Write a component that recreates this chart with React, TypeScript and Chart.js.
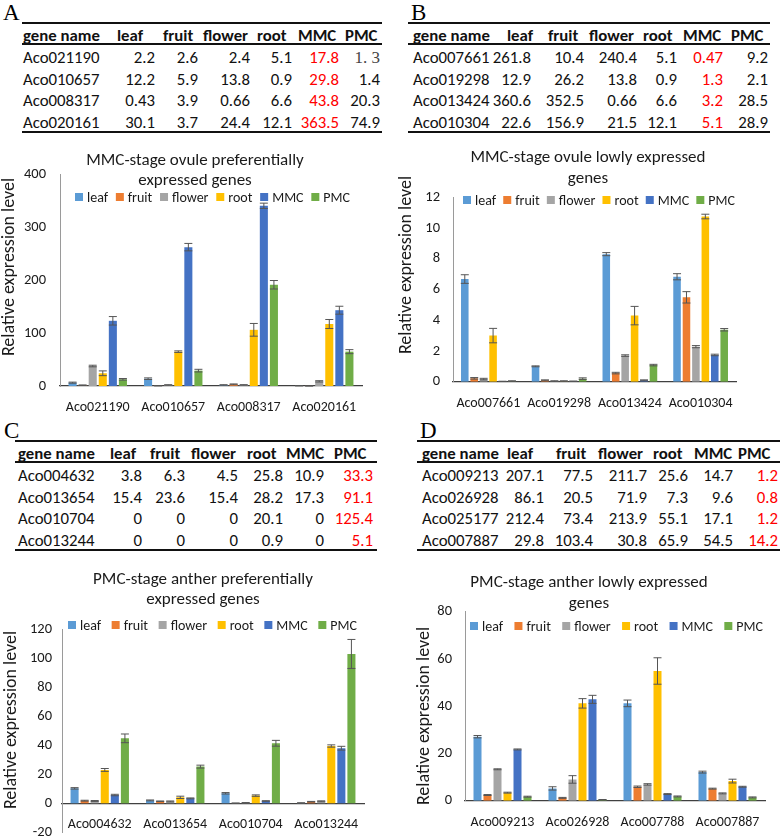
import React, { useEffect, useRef } from "react";
import { Chart, registerables } from "chart.js";
Chart.register(...registerables);

const FONT = "Carlito, Calibri, Lato, 'Noto Sans', sans-serif";
const SERIF = "'Liberation Serif', 'DejaVu Serif', serif";

// ---------- shared ----------
const SERIES = ["leaf", "fruit", "flower", "root", "MMC", "PMC"];
const COLORS = ["#5B9BD5", "#ED7D31", "#A5A5A5", "#FFC000", "#4472C4", "#70AD47"];
const HEADERS = ["gene name", "leaf", "fruit", "flower", "root", "MMC", "PMC"];

// ---------- panel A ----------
const tableAGenes = ["Aco021190", "Aco010657", "Aco008317", "Aco020161"];
const tableARows = [
  ["2.2", "2.6", "2.4", "5.1", "17.8", "1. 3"],
  ["12.2", "5.9", "13.8", "0.9", "29.8", "1.4"],
  ["0.43", "3.9", "0.66", "6.6", "43.8", "20.3"],
  ["30.1", "3.7", "24.4", "12.1", "363.5", "74.9"],
];
const chartAGenes = ["Aco021190", "Aco010657", "Aco008317", "Aco020161"];
// order: leaf, fruit, flower, root, MMC, PMC
const chartAValues = [
  [6.3, 13.8, 1.9, 0.5],
  [1.5, 0.5, 3.1, 0.2],
  [37.7, 1.9, 2.0, 8.8],
  [24, 64.8, 106, 117],
  [123, 262, 340, 143],
  [12.6, 29, 191, 64.8],
];
const chartAErrors = [
  [1, 1.5, 0.5, 0.3],
  [0.5, 0.3, 0.8, 0.2],
  [1.5, 0.5, 0.5, 1.2],
  [4.5, 1.5, 12, 8.5],
  [8, 7, 5, 7.5],
  [1.5, 2.5, 8, 3.8],
];

// ---------- panel B ----------
const tableBGenes = ["Aco007661", "Aco019298", "Aco013424", "Aco010304"];
const tableBRows = [
  ["261.8", "10.4", "240.4", "5.1", "0.47", "9.2"],
  ["12.9", "26.2", "13.8", "0.9", "1.3", "2.1"],
  ["360.6", "352.5", "0.66", "6.6", "3.2", "28.5"],
  ["22.6", "156.9", "21.5", "12.1", "5.1", "28.9"],
];
const chartBGenes = ["Aco007661", "Aco019298", "Aco013424", "Aco010304"];
const chartBValues = [
  [6.68, 1.0, 8.3, 6.83],
  [0.22, 0.09, 0.56, 5.49],
  [0.17, 0.04, 1.7, 2.28],
  [3.0, 0.04, 4.3, 10.75],
  [0.02, 0.03, 0.09, 1.74],
  [0.04, 0.2, 1.08, 3.38],
];
const chartBErrors = [
  [0.28, 0.03, 0.1, 0.2],
  [0.05, 0.03, 0.05, 0.37],
  [0.05, 0.02, 0.05, 0.07],
  [0.47, 0.02, 0.6, 0.15],
  [0.01, 0.01, 0.03, 0.05],
  [0.02, 0.05, 0.05, 0.08],
];

// ---------- panel C ----------
const tableCGenes = ["Aco004632", "Aco013654", "Aco010704", "Aco013244"];
const tableCRows = [
  ["3.8", "6.3", "4.5", "25.8", "10.9", "33.3"],
  ["15.4", "23.6", "15.4", "28.2", "17.3", "91.1"],
  ["0", "0", "0", "20.1", "0", "125.4"],
  ["0", "0", "0", "0.9", "0", "5.1"],
];
const chartCGenes = ["Aco004632", "Aco013654", "Aco010704", "Aco013244"];
const chartCValues = [
  [10.3, 2.0, 6.9, 0.2],
  [1.8, 1.4, 0.1, 1.1],
  [1.6, 1.3, 0.3, 1.4],
  [23, 4.1, 5.3, 39.5],
  [5.7, 3.4, 1.6, 38],
  [44.8, 25.3, 41.4, 103],
];
const chartCErrors = [
  [0.5, 0.3, 0.5, 0.2],
  [0.3, 0.2, 0.1, 0.2],
  [0.3, 0.3, 0.2, 0.3],
  [1, 0.8, 0.5, 0.8],
  [0.5, 0.3, 0.2, 1.3],
  [3, 1, 2, 10],
];

// ---------- panel D ----------
const tableDGenes = ["Aco009213", "Aco026928", "Aco025177", "Aco007887"];
const tableDRows = [
  ["207.1", "77.5", "211.7", "25.6", "14.7", "1.2"],
  ["86.1", "20.5", "71.9", "7.3", "9.6", "0.8"],
  ["212.4", "73.4", "213.9", "55.1", "17.1", "1.2"],
  ["29.8", "103.4", "30.8", "65.9", "54.5", "14.2"],
];
const chartDGenes = ["Aco009213", "Aco026928", "Aco007788", "Aco007887"];
const chartDValues = [
  [27.1, 5.2, 41.2, 12.1],
  [2.4, 1.2, 5.9, 5.1],
  [13.3, 9.0, 6.9, 3.1],
  [3.4, 41.2, 54.9, 8.3],
  [21.7, 42.9, 2.8, 5.9],
  [1.7, 0.4, 1.8, 1.4],
];
const chartDErrors = [
  [0.5, 0.7, 1.4, 0.4],
  [0.2, 0.2, 0.3, 0.2],
  [0.2, 1.6, 0.3, 0.2],
  [0.2, 2, 5.6, 0.8],
  [0.2, 1.7, 0.2, 0.2],
  [0.2, 0.1, 0.2, 0.2],
];

// ---------- plugins ----------
const errorBarPlugin = {
  id: "errorBars",
  afterDatasetsDraw(chart: any) {
    const ctx = chart.ctx;
    const ys = chart.scales.y;
    chart.data.datasets.forEach((ds: any, i: number) => {
      const meta = chart.getDatasetMeta(i);
      meta.data.forEach((bar: any, j: number) => {
        const v = ds.data[j];
        const e = ds.errors[j];
        const x = bar.x;
        const t = ys.getPixelForValue(v + e);
        const b = ys.getPixelForValue(v - e);
        const cap = 4;
        ctx.save();
        ctx.strokeStyle = "#555555";
        ctx.lineWidth = 1;
        ctx.beginPath();
        ctx.moveTo(x, t);
        ctx.lineTo(x, b);
        ctx.moveTo(x - cap, t);
        ctx.lineTo(x + cap, t);
        ctx.moveTo(x - cap, b);
        ctx.lineTo(x + cap, b);
        ctx.stroke();
        ctx.restore();
      });
    });
  },
};

const overlayPlugin = {
  id: "overlay",
  afterDraw(chart: any, _args: any, o: any) {
    const ctx = chart.ctx;
    ctx.save();
    ctx.fillStyle = "#1a1a1a";
    ctx.textBaseline = "middle";
    ctx.textAlign = "center";
    ctx.font = `${o.titleSize}px ${FONT}`;
    o.titleLines.forEach((t: string, k: number) => ctx.fillText(t, o.titleX, o.titleY[k]));
    // legend
    ctx.font = `${o.legendSize}px ${FONT}`;
    const box = 8;
    const gap = 4;
    const items = chart.data.datasets.map((ds: any) => ({
      label: ds.label,
      color: ds.backgroundColor,
      w: box + gap + ctx.measureText(ds.label).width,
    }));
    const sum = items.reduce((s: number, it: any) => s + it.w, 0);
    const spacing = (o.legendW - sum) / (items.length - 1);
    let x = o.legendX;
    ctx.textAlign = "left";
    items.forEach((it: any) => {
      ctx.fillStyle = it.color;
      ctx.fillRect(x, o.legendY - box / 2, box, box);
      ctx.fillStyle = "#1a1a1a";
      ctx.fillText(it.label, x + box + gap, o.legendY + 1);
      x += it.w + spacing;
    });
    // y-axis title
    ctx.translate(o.yTitleX, o.yTitleY);
    ctx.rotate(-Math.PI / 2);
    ctx.textAlign = "center";
    ctx.font = `${o.yTitleSize}px ${FONT}`;
    ctx.fillText(o.yTitle, 0, 0);
    ctx.restore();
  },
};

// ---------- components ----------
type TableCfg = {
  letter: string;
  letterX: number;
  top: number;
  x1: number;
  x2: number;
  headerX: number[];
  valueRight: number[];
  genes: string[];
  rows: string[][];
  redCol: number;
  special?: { r: number; c: number };
};

const TABLE_FS = 16.8;

function Table({ c }: { c: TableCfg }) {
  const els: React.ReactNode[] = [];
  const txt = (key: string, text: string, cy: number, st: React.CSSProperties) =>
    els.push(
      <div
        key={key}
        style={{
          position: "absolute",
          top: cy - 11,
          height: 22,
          lineHeight: "22px",
          fontFamily: FONT,
          fontSize: TABLE_FS,
          color: "#111",
          whiteSpace: "nowrap",
          ...st,
        }}
      >
        {text}
      </div>
    );
  els.push(
    <div
      key="letter"
      style={{
        position: "absolute",
        left: c.letterX,
        top: c.top - 22,
        fontFamily: SERIF,
        fontSize: 23,
        lineHeight: "23px",
        color: "#000",
      }}
    >
      {c.letter}
    </div>
  );
  const line = (key: string, y: number, h: number) =>
    els.push(
      <div
        key={key}
        style={{ position: "absolute", left: c.x1, width: c.x2 - c.x1, top: y - h / 2, height: h, background: "#111" }}
      />
    );
  line("top", c.top, 1.6);
  line("under", c.top + 21, 1.2);
  line("bottom", c.top + 109, 2);
  HEADERS.forEach((h, i) =>
    txt("h" + i, h, c.top + 12.5, { left: c.headerX[i], fontWeight: 700 })
  );
  const rowY = [c.top + 35, c.top + 56.5, c.top + 78, c.top + 99.5];
  c.genes.forEach((g, r) => {
    txt("g" + r, g, rowY[r], { left: c.headerX[0] });
    c.rows[r].forEach((v, k) => {
      const sp = c.special && c.special.r === r && c.special.c === k;
      txt("v" + r + "-" + k, v, rowY[r], {
        right: 780 - c.valueRight[k],
        textAlign: "right",
        color: sp ? "#444" : k === c.redCol ? "#FF0000" : "#111",
        fontFamily: sp ? SERIF : FONT,
        fontSize: sp ? 17 : TABLE_FS,
      });
    });
  });
  return <>{els}</>;
}

type ChartCfg = {
  left: number;
  top: number;
  width: number;
  height: number;
  genes: string[];
  values: number[][];
  errors: number[][];
  yMin: number;
  yMax: number;
  step: number;
  padTop: number;
  padRight: number;
  padBottom: number;
  yWidth: number;
  xHeight: number;
  yTickPad: number;
  xAtZero?: boolean;
  overlay: any;
};

function BarChart({ c }: { c: ChartCfg }) {
  const ref = useRef<HTMLCanvasElement>(null);
  useEffect(() => {
    const chart = new Chart(ref.current as HTMLCanvasElement, {
      type: "bar",
      data: {
        labels: c.genes,
        datasets: SERIES.map((s, i) => ({
          label: s,
          data: c.values[i],
          errors: c.errors[i],
          backgroundColor: COLORS[i],
          borderWidth: 0,
          categoryPercentage: 0.8,
          barPercentage: 0.8,
        })) as any,
      },
      options: {
        responsive: false,
        animation: false,
        layout: { padding: { left: 0, top: c.padTop, right: c.padRight, bottom: c.padBottom } },
        plugins: {
          legend: { display: false },
          title: { display: false },
          tooltip: { enabled: false },
          overlay: c.overlay,
        } as any,
        scales: {
          x: {
            position: (c.xAtZero ? { y: 0 } : "bottom") as any,
            grid: { display: false, drawTicks: false },
            border: { display: true, color: "#404040", width: 1.3 },
            ticks: {
              font: { family: FONT, size: 14 },
              color: "#1a1a1a",
              padding: 13,
              maxRotation: 0,
              autoSkip: false,
            },
            afterFit: (s: any) => {
              s.height = c.xHeight;
              s.paddingLeft = 0;
              s.paddingRight = 0;
              s.paddingTop = 0;
              s.paddingBottom = 0;
            },
          },
          y: {
            min: c.yMin,
            max: c.yMax,
            grid: { display: false, drawTicks: false },
            border: { display: true, color: "#9a9a9a", width: 1 },
            ticks: {
              stepSize: c.step,
              font: { family: FONT, size: 14.5 },
              color: "#1a1a1a",
              padding: c.yTickPad,
            },
            afterFit: (s: any) => {
              s.width = c.yWidth;
              s.paddingTop = 0;
              s.paddingBottom = 0;
            },
          },
        },
      },
      plugins: [errorBarPlugin, overlayPlugin],
    });
    return () => chart.destroy();
  }, []);
  return (
    <div style={{ position: "absolute", left: c.left, top: c.top, width: c.width, height: c.height }}>
      <canvas ref={ref} width={c.width} height={c.height} style={{ width: c.width, height: c.height, display: "block" }} />
    </div>
  );
}

const YT = "Relative expression level";

const tables: TableCfg[] = [
  {
    letter: "A", letterX: 3, top: 23, x1: 22, x2: 382,
    headerX: [23, 117, 163, 203, 257, 298, 345],
    valueRight: [155, 198, 250, 292, 339, 380],
    genes: tableAGenes, rows: tableARows, redCol: 4, special: { r: 0, c: 5 },
  },
  {
    letter: "B", letterX: 411, top: 23, x1: 408, x2: 770,
    headerX: [413, 507, 548, 589, 643, 683, 731],
    valueRight: [531, 584, 637, 677, 723, 768],
    genes: tableBGenes, rows: tableBRows, redCol: 4,
  },
  {
    letter: "C", letterX: 4, top: 441, x1: 15, x2: 377,
    headerX: [18, 110, 150, 191, 247, 286, 334],
    valueRight: [142, 185, 238, 283, 324, 373],
    genes: tableCGenes, rows: tableCRows, redCol: 5,
  },
  {
    letter: "D", letterX: 420, top: 441, x1: 417, x2: 780,
    headerX: [422, 507, 556, 598, 653, 694, 738],
    valueRight: [544, 593, 647, 688, 733, 778],
    genes: tableDGenes, rows: tableDRows, redCol: 5,
  },
];

const charts: ChartCfg[] = [
  {
    left: 0, top: 140, width: 390, height: 275,
    genes: chartAGenes, values: chartAValues, errors: chartAErrors,
    yMin: 0, yMax: 400, step: 100,
    padTop: 34, padRight: 28, padBottom: 0, yWidth: 60, xHeight: 29, yTickPad: 14,
    overlay: {
      titleLines: ["MMC-stage ovule preferentially", "expressed genes"], titleX: 195, titleY: [21, 41], titleSize: 17,
      legendX: 75, legendW: 275, legendY: 57, legendSize: 14,
      yTitle: YT, yTitleX: 9, yTitleY: 127, yTitleSize: 18,
    },
  },
  {
    left: 390, top: 140, width: 390, height: 275,
    genes: chartBGenes, values: chartBValues, errors: chartBErrors,
    yMin: 0, yMax: 12, step: 2,
    padTop: 57.3, padRight: 44, padBottom: 0, yWidth: 63, xHeight: 33.3, yTickPad: 13,
    overlay: {
      titleLines: ["MMC-stage ovule lowly expressed", "genes"], titleX: 198, titleY: [18, 39], titleSize: 17,
      legendX: 73, legendW: 272, legendY: 60, legendSize: 14,
      yTitle: YT, yTitleX: 16, yTitleY: 125, yTitleSize: 18,
    },
  },
  {
    left: 0, top: 560, width: 390, height: 277,
    genes: chartCGenes, values: chartCValues, errors: chartCErrors,
    yMin: -20, yMax: 120, step: 20,
    padTop: 69.3, padRight: 26, padBottom: 4.7, yWidth: 62, xHeight: 0, yTickPad: 10, xAtZero: true,
    overlay: {
      titleLines: ["PMC-stage anther preferentially", "expressed genes"], titleX: 203, titleY: [20, 40], titleSize: 17,
      legendX: 68, legendW: 289, legendY: 65, legendSize: 14,
      yTitle: YT, yTitleX: 11, yTitleY: 160, yTitleSize: 18,
    },
  },
  {
    left: 390, top: 560, width: 390, height: 277,
    genes: chartDGenes, values: chartDValues, errors: chartDErrors,
    yMin: 0, yMax: 80, step: 20,
    padTop: 51.7, padRight: 15, padBottom: 0, yWidth: 75, xHeight: 36.3, yTickPad: 13,
    overlay: {
      titleLines: ["PMC-stage anther lowly expressed", "genes"], titleX: 199, titleY: [23, 44], titleSize: 17,
      legendX: 80, legendW: 293, legendY: 66, legendSize: 14,
      yTitle: YT, yTitleX: 34, yTitleY: 156, yTitleSize: 18,
    },
  },
];

export default function App() {
  return (
    <div
      style={{
        position: "absolute",
        left: 0,
        top: 0,
        width: 780,
        height: 837,
        background: "#fff",
        overflow: "hidden",
      }}
    >
      {tables.map((t, i) => (
        <Table key={"t" + i} c={t} />
      ))}
      {charts.map((c, i) => (
        <BarChart key={"c" + i} c={c} />
      ))}
    </div>
  );
}
